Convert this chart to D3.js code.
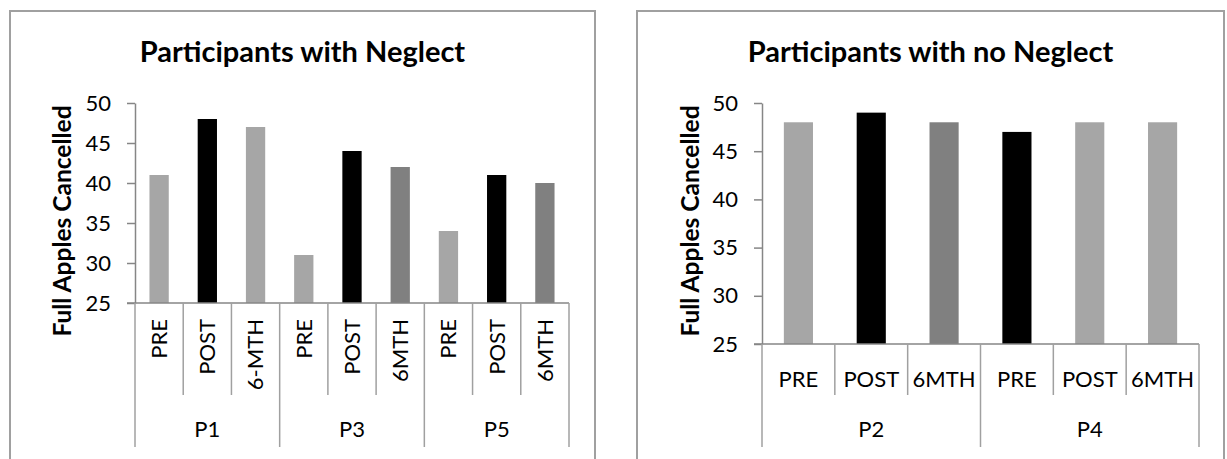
<!DOCTYPE html>
<html>
<head>
<meta charset="utf-8">
<script src="https://cdn.jsdelivr.net/npm/d3@7/dist/d3.min.js"></script>
<style>
  html, body { margin: 0; padding: 0; background: #ffffff; }
  svg { display: block; }
  text { font-family: Lato, "Open Sans", "DejaVu Sans", sans-serif; fill: #000; }
</style>
</head>
<body>
<svg id="chart" width="1227" height="459"></svg>
<script>
// ---- Data ----
const groupsNeglect = ["P1", "P3", "P5"];
const phasesNeglect = ["PRE", "POST", "6-MTH", "PRE", "POST", "6MTH", "PRE", "POST", "6MTH"];
const valuesNeglect = [41, 48, 47, 31, 44, 42, 34, 41, 40];

const groupsNoNeglect = ["P2", "P4"];
const phasesNoNeglect = ["PRE", "POST", "6MTH", "PRE", "POST", "6MTH"];
const valuesNoNeglect = [48, 49, 48, 47, 48, 48];

const yTicks = [25, 30, 35, 40, 45, 50];
const yDomain = [25, 50];

// ---- Styling ----
const shade = { light: "#a6a6a6", dark: "#808080", black: "#000000" };
const shadesNeglect = ["light", "black", "light", "light", "black", "dark", "light", "black", "dark"];
const shadesNoNeglect = ["light", "black", "dark", "black", "light", "light"];
const axisColor = "#868686";
const frameColor = "#a0a0a0";

const svg = d3.select("#chart");

function drawPanel(cfg) {
  const g = svg.append("g");

  // panel frame (open at the bottom, running off the page)
  g.append("path")
    .attr("d", `M${cfg.frame[0]},470 V${cfg.frame[1]} H${cfg.frame[2]} V470`)
    .attr("fill", "none")
    .attr("stroke", frameColor)
    .attr("stroke-width", 2);

  // title
  g.append("text")
    .attr("x", (cfg.frame[0] + cfg.frame[2]) / 2)
    .attr("y", 62)
    .attr("text-anchor", "middle")
    .style("font-size", "29px")
    .style("font-weight", "bold")
    .text(cfg.title);

  const n = cfg.values.length;
  const idx = d3.range(n);

  const y = d3.scaleLinear().domain(yDomain).range([cfg.base, cfg.top]);
  const slot = d3.scaleBand().domain(idx).range([cfg.x0, cfg.x1]).padding(0);
  const bar = d3.scaleBand().domain(idx).range([cfg.x0, cfg.x1])
    .paddingInner(cfg.pad).paddingOuter(cfg.pad / 2);

  // bars
  g.append("g").selectAll("rect")
    .data(idx)
    .join("rect")
    .attr("x", i => bar(i))
    .attr("width", bar.bandwidth())
    .attr("y", i => y(cfg.values[i]))
    .attr("height", i => y(yDomain[0]) - y(cfg.values[i]))
    .attr("fill", i => shade[cfg.shades[i]]);

  // y axis
  const yAxis = d3.axisLeft(y)
    .tickValues(yTicks)
    .tickSize(8)
    .tickSizeOuter(0)
    .tickPadding(16)
    .tickFormat(d3.format("d"));
  const ya = g.append("g")
    .attr("transform", `translate(${cfg.x0},0)`)
    .call(yAxis);
  ya.select(".domain").attr("stroke", axisColor).attr("stroke-width", 1.5);
  ya.selectAll(".tick line").attr("stroke", axisColor).attr("stroke-width", 1.5);
  ya.selectAll(".tick text")
    .attr("fill", "#000")
    .style("font-size", "22px")
    .style("font-family", "Lato, sans-serif");

  // y axis title
  g.append("text")
    .attr("transform", `translate(${cfg.yTitleX},221) rotate(-90)`)
    .attr("text-anchor", "middle")
    .attr("dy", "0.35em")
    .style("font-size", "24.5px")
    .style("font-weight", "bold")
    .text("Full Apples Cancelled");

  // category axis line
  g.append("line")
    .attr("x1", cfg.x0 - 8).attr("x2", cfg.x1)
    .attr("y1", cfg.base).attr("y2", cfg.base)
    .attr("stroke", axisColor).attr("stroke-width", 1.5);

  // category separators: short between phases, long between participants
  const bounds = d3.range(n + 1);
  g.append("g").selectAll("line")
    .data(bounds)
    .join("line")
    .attr("x1", i => (i < n ? slot(i) : cfg.x1))
    .attr("x2", i => (i < n ? slot(i) : cfg.x1))
    .attr("y1", cfg.base)
    .attr("y2", i => (i % 3 === 0 ? 447 : 395))
    .attr("stroke", frameColor)
    .attr("stroke-width", 1.5);

  // phase labels
  const labels = g.append("g").selectAll("text")
    .data(idx)
    .join("text")
    .style("font-size", "22px")
    .text(i => cfg.phases[i]);
  if (cfg.rotate) {
    labels
      .attr("transform", i => `translate(${slot(i) + slot.bandwidth() / 2},${cfg.base + 16}) rotate(-90)`)
      .attr("text-anchor", "end")
      .attr("dy", "0.36em");
  } else {
    labels
      .attr("x", i => slot(i) + slot.bandwidth() / 2)
      .attr("y", 387)
      .attr("text-anchor", "middle");
  }

  // participant labels
  g.append("g").selectAll("text")
    .data(cfg.groups)
    .join("text")
    .attr("x", (d, k) => slot(k * 3) + slot.bandwidth() * 1.5)
    .attr("y", 437)
    .attr("text-anchor", "middle")
    .style("font-size", "22px")
    .text(d => d);
}

drawPanel({
  title: "Participants with Neglect",
  frame: [10, 11, 595],
  x0: 135, x1: 569, top: 103, base: 303,
  pad: 0.6, yTitleX: 62, rotate: true,
  values: valuesNeglect, phases: phasesNeglect, groups: groupsNeglect, shades: shadesNeglect
});

drawPanel({
  title: "Participants with no Neglect",
  frame: [637, 11, 1224],
  x0: 762, x1: 1199, top: 103, base: 344,
  pad: 0.6, yTitleX: 690, rotate: false,
  values: valuesNoNeglect, phases: phasesNoNeglect, groups: groupsNoNeglect, shades: shadesNoNeglect
});
</script>
</body>
</html>
